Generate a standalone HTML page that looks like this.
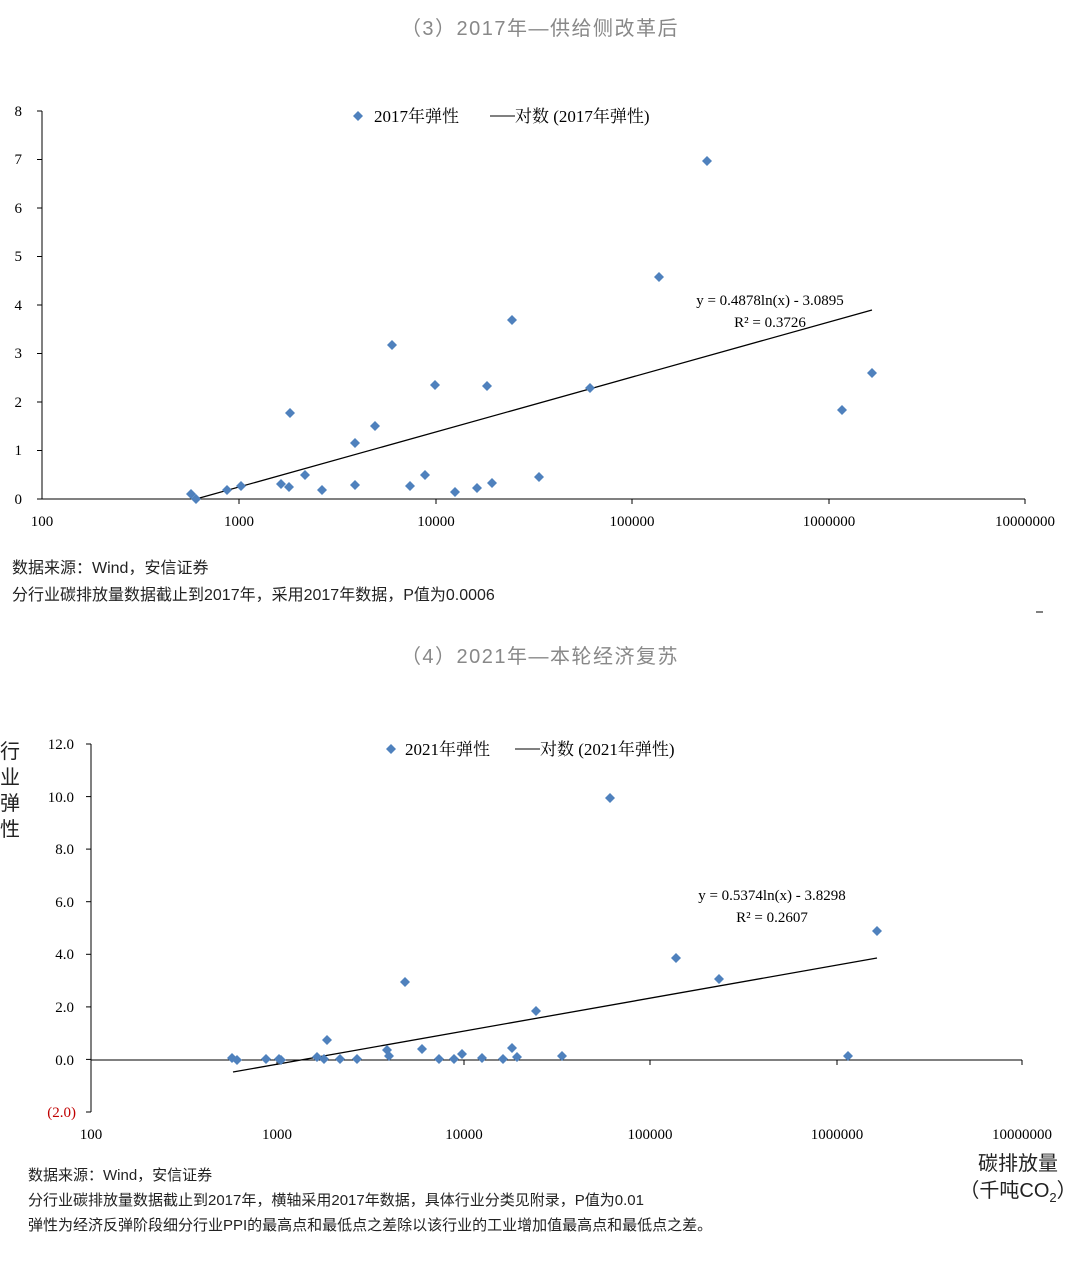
<!DOCTYPE html>
<html><head><meta charset="utf-8"><style>
body{margin:0;background:#fff;}
svg text{font-family:"Liberation Serif","Noto Serif CJK SC",serif;}
svg text.s{font-family:"Liberation Sans","Noto Sans CJK SC",sans-serif;}
</style></head><body>
<svg width="1080" height="1262" viewBox="0 0 1080 1262" xmlns="http://www.w3.org/2000/svg">
<defs><path id="d" d="M0,-5 L5,0 L0,5 L-5,0Z" fill="#4f81bd"/></defs>
<text x="540" y="35" text-anchor="middle" class="s" font-size="20" fill="#888" letter-spacing="1.5">（3）2017年—供给侧改革后</text>
<g stroke="#000" stroke-width="1" fill="none">
<line x1="42" y1="111" x2="42" y2="499"/><line x1="42" y1="499" x2="1025" y2="499"/>
<line x1="37" y1="111" x2="42" y2="111"/><line x1="37" y1="159.5" x2="42" y2="159.5"/><line x1="37" y1="208" x2="42" y2="208"/><line x1="37" y1="256.5" x2="42" y2="256.5"/><line x1="37" y1="305" x2="42" y2="305"/><line x1="37" y1="353.5" x2="42" y2="353.5"/><line x1="37" y1="402" x2="42" y2="402"/><line x1="37" y1="450.5" x2="42" y2="450.5"/><line x1="37" y1="499" x2="42" y2="499"/>
<line x1="239" y1="499" x2="239" y2="504"/><line x1="436" y1="499" x2="436" y2="504"/><line x1="632" y1="499" x2="632" y2="504"/><line x1="829" y1="499" x2="829" y2="504"/><line x1="1025" y1="499" x2="1025" y2="504"/>
</g>
<g font-size="15" text-anchor="end">
<text x="22" y="116">8</text><text x="22" y="164">7</text><text x="22" y="213">6</text><text x="22" y="261">5</text><text x="22" y="310">4</text><text x="22" y="358">3</text><text x="22" y="407">2</text><text x="22" y="455">1</text><text x="22" y="504">0</text>
</g>
<g font-size="15" text-anchor="middle">
<text x="42" y="526">100</text><text x="239" y="526">1000</text><text x="436" y="526">10000</text><text x="632" y="526">100000</text><text x="829" y="526">1000000</text><text x="1025" y="526">10000000</text>
</g>
<use href="#d" x="358" y="116"/><text x="374" y="122" font-size="17">2017年弹性</text>
<line x1="490" y1="116" x2="515" y2="116" stroke="#000"/><text x="515" y="122" font-size="17">对数 (2017年弹性)</text>
<line x1="196" y1="499" x2="872" y2="310" stroke="#000" stroke-width="1.3"/>
<text x="770" y="305" font-size="15" text-anchor="middle">y = 0.4878ln(x) - 3.0895</text>
<text x="770" y="327" font-size="15" text-anchor="middle">R² = 0.3726</text>
<g>
<use href="#d" x="191" y="494"/><use href="#d" x="196" y="499"/><use href="#d" x="227" y="490"/><use href="#d" x="241" y="486"/><use href="#d" x="281" y="484"/><use href="#d" x="289" y="487"/><use href="#d" x="290" y="413"/><use href="#d" x="305" y="475"/><use href="#d" x="322" y="490"/><use href="#d" x="355" y="443"/><use href="#d" x="355" y="485"/><use href="#d" x="375" y="426"/><use href="#d" x="392" y="345"/><use href="#d" x="410" y="486"/><use href="#d" x="425" y="475"/><use href="#d" x="435" y="385"/><use href="#d" x="455" y="492"/><use href="#d" x="477" y="488"/><use href="#d" x="487" y="386"/><use href="#d" x="492" y="483"/><use href="#d" x="512" y="320"/><use href="#d" x="539" y="477"/><use href="#d" x="590" y="388"/><use href="#d" x="659" y="277"/><use href="#d" x="707" y="161"/><use href="#d" x="842" y="410"/><use href="#d" x="872" y="373"/>
</g>
<text x="12" y="573" class="s" font-size="16" fill="#222">数据来源：Wind，安信证券</text>
<text x="12" y="600" class="s" font-size="16" fill="#222">分行业碳排放量数据截止到2017年，采用2017年数据，P值为0.0006</text>
<line x1="1036" y1="612" x2="1043" y2="612" stroke="#000"/>
<text x="540" y="663" text-anchor="middle" class="s" font-size="20" fill="#888" letter-spacing="1.5">（4）2021年—本轮经济复苏</text>
<g stroke="#000" stroke-width="1" fill="none">
<line x1="91" y1="744" x2="91" y2="1112"/><line x1="91" y1="1060" x2="1022" y2="1060"/>
<line x1="86" y1="744" x2="91" y2="744"/><line x1="86" y1="796.6" x2="91" y2="796.6"/><line x1="86" y1="849.1" x2="91" y2="849.1"/><line x1="86" y1="901.7" x2="91" y2="901.7"/><line x1="86" y1="954.3" x2="91" y2="954.3"/><line x1="86" y1="1006.9" x2="91" y2="1006.9"/><line x1="86" y1="1059.4" x2="91" y2="1059.4"/><line x1="86" y1="1112" x2="91" y2="1112"/>
<line x1="277" y1="1060" x2="277" y2="1065"/><line x1="464" y1="1060" x2="464" y2="1065"/><line x1="650" y1="1060" x2="650" y2="1065"/><line x1="837" y1="1060" x2="837" y2="1065"/><line x1="1022" y1="1060" x2="1022" y2="1065"/>
</g>
<g font-size="15" text-anchor="end">
<text x="74" y="749">12.0</text><text x="74" y="802">10.0</text><text x="74" y="854">8.0</text><text x="74" y="907">6.0</text><text x="74" y="959">4.0</text><text x="74" y="1012">2.0</text><text x="74" y="1065">0.0</text><text x="76" y="1117" fill="#c00000">(2.0)</text>
</g>
<g font-size="15" text-anchor="middle">
<text x="91" y="1139">100</text><text x="277" y="1139">1000</text><text x="464" y="1139">10000</text><text x="650" y="1139">100000</text><text x="837" y="1139">1000000</text><text x="1022" y="1139">10000000</text>
</g>
<g font-size="20" fill="#222"><text class="s" x="0" y="758">行</text><text class="s" x="0" y="784">业</text><text class="s" x="0" y="810">弹</text><text class="s" x="0" y="836">性</text></g>
<use href="#d" x="391" y="749"/><text x="405" y="755" font-size="17">2021年弹性</text>
<line x1="515" y1="749" x2="540" y2="749" stroke="#000"/><text x="540" y="755" font-size="17">对数 (2021年弹性)</text>
<line x1="233" y1="1072" x2="877" y2="958" stroke="#000" stroke-width="1.3"/>
<text x="772" y="900" font-size="15" text-anchor="middle">y = 0.5374ln(x) - 3.8298</text>
<text x="772" y="922" font-size="15" text-anchor="middle">R² = 0.2607</text>
<g>
<use href="#d" x="232" y="1058"/><use href="#d" x="237" y="1060"/><use href="#d" x="266" y="1059"/><use href="#d" x="279" y="1059"/><use href="#d" x="281" y="1060"/><use href="#d" x="317" y="1057"/><use href="#d" x="324" y="1059"/><use href="#d" x="327" y="1040"/><use href="#d" x="340" y="1059"/><use href="#d" x="357" y="1059"/><use href="#d" x="387" y="1050"/><use href="#d" x="389" y="1056"/><use href="#d" x="405" y="982"/><use href="#d" x="422" y="1049"/><use href="#d" x="439" y="1059"/><use href="#d" x="454" y="1059"/><use href="#d" x="462" y="1054"/><use href="#d" x="482" y="1058"/><use href="#d" x="503" y="1059"/><use href="#d" x="512" y="1048"/><use href="#d" x="517" y="1057"/><use href="#d" x="536" y="1011"/><use href="#d" x="562" y="1056"/><use href="#d" x="610" y="798"/><use href="#d" x="676" y="958"/><use href="#d" x="719" y="979"/><use href="#d" x="848" y="1056"/><use href="#d" x="877" y="931"/>
</g>
<text x="1018" y="1170" class="s" font-size="20" text-anchor="middle" fill="#222">碳排放量</text>
<text x="1018" y="1197" class="s" font-size="20" text-anchor="middle" fill="#222">（千吨CO<tspan font-size="13" dy="5">2</tspan><tspan dy="-5">）</tspan></text>
<g font-size="15" fill="#222">
<text class="s" x="28" y="1180">数据来源：Wind，安信证券</text>
<text class="s" x="28" y="1205">分行业碳排放量数据截止到2017年，横轴采用2017年数据，具体行业分类见附录，P值为0.01</text>
<text class="s" x="28" y="1230">弹性为经济反弹阶段细分行业PPI的最高点和最低点之差除以该行业的工业增加值最高点和最低点之差。</text>
</g>
</svg>
</body></html>
